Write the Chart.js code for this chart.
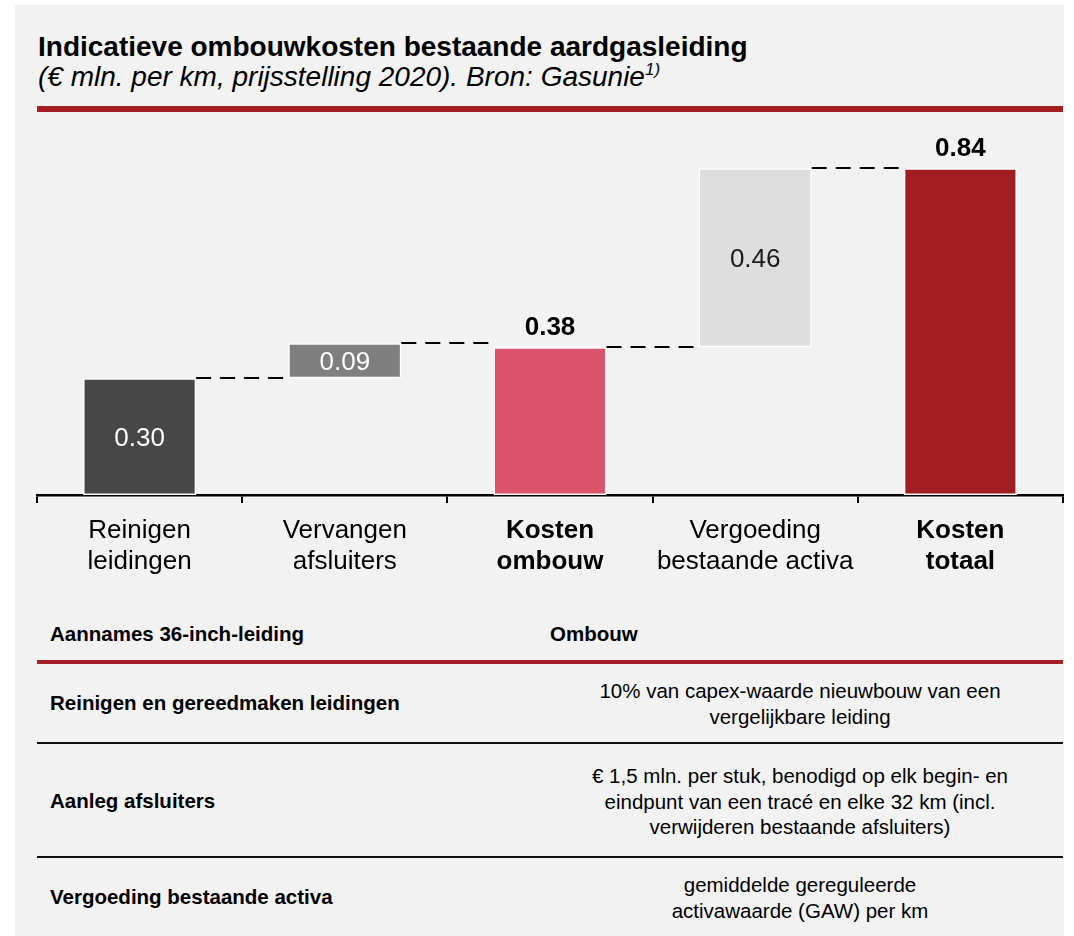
<!DOCTYPE html>
<html lang="nl">
<head>
<meta charset="utf-8">
<title>Indicatieve ombouwkosten bestaande aardgasleiding</title>
<script src="https://cdn.jsdelivr.net/npm/chart.js@4/dist/chart.umd.min.js"></script>
<style>
  html, body { margin: 0; padding: 0; background: #ffffff; }
  body { width: 1074px; height: 936px; position: relative; overflow: hidden;
         font-family: "Liberation Sans", Arial, sans-serif; color: #000; }
  #paneel { position: absolute; left: 15px; top: 5px; width: 1049px; height: 931px; background: #f2f2f2; }
  #grafiek { position: absolute; left: 0; top: 0; }
  .t { position: absolute; white-space: nowrap; }
  .titel { left: 38px; top: 33px; font-size: 28px; line-height: 28px; font-weight: bold; }
  .sub { left: 38px; top: 63px; font-size: 28px; line-height: 28px; font-style: italic; }
  .sub sup { font-size: 17px; line-height: 0; vertical-align: 11px; }
  .lijn { position: absolute; left: 37px; width: 1026px; }
  .kop { font-size: 20.5px; line-height: 20.5px; font-weight: bold; }
  .links { left: 50px; font-size: 20.5px; line-height: 20.5px; font-weight: bold; }
  .rechts { left: 540px; width: 520px; text-align: center; font-size: 20.5px; line-height: 25.5px; white-space: normal; }
</style>
</head>
<body>
<div id="paneel"></div>

<div class="t titel">Indicatieve ombouwkosten bestaande aardgasleiding</div>
<div class="t sub">(€ mln. per km, prijsstelling 2020). Bron: Gasunie<sup>1)</sup></div>
<div class="lijn" style="top:106px;height:5.5px;background:#a31f22;"></div>

<canvas id="grafiek" width="1074" height="600"></canvas>

<!-- tabel met aannames -->
<div class="t kop" style="left:50px;top:624px;">Aannames 36-inch-leiding</div>
<div class="t kop" style="left:550px;top:624px;">Ombouw</div>
<div class="lijn" style="top:660px;height:4px;background:#a52026;"></div>

<div class="t links" style="top:693px;">Reinigen en gereedmaken leidingen</div>
<div class="t rechts" style="top:678px;">10% van capex-waarde nieuwbouw van een<br>vergelijkbare leiding</div>
<div class="lijn" style="top:742px;height:2px;background:#111;"></div>

<div class="t links" style="top:791px;">Aanleg afsluiters</div>
<div class="t rechts" style="top:763px;">€ 1,5 mln. per stuk, benodigd op elk begin- en<br>eindpunt van een tracé en elke 32 km (incl.<br>verwijderen bestaande afsluiters)</div>
<div class="lijn" style="top:856px;height:2px;background:#111;"></div>

<div class="t links" style="top:887px;">Vergoeding bestaande activa</div>
<div class="t rechts" style="top:872px;">gemiddelde gereguleerde<br>activawaarde (GAW) per km</div>

<script>
// Data
const categorieen = [
  ["Reinigen", "leidingen"],
  ["Vervangen", "afsluiters"],
  ["Kosten", "ombouw"],
  ["Vergoeding", "bestaande activa"],
  ["Kosten", "totaal"],
];
const waarden = [0.30, 0.09, 0.38, 0.46, 0.84];
const isTotaal = [false, false, true, false, true];

const kleuren = ["#474747", "#7f7f7f", "#db546b", "#dedede", "#a01e21"];
const labelKleuren = ["#ffffff", "#ffffff", "#000000", "#1a1a1a", "#000000"];
const lettertype = '"Liberation Sans", Arial, sans-serif';

// Waterval: stappen stapelen op het lopende totaal, totalen starten op 0
let lopend = 0;
const balken = waarden.map((v, i) => {
  if (isTotaal[i]) {
    lopend = v;
    return [0, v];
  }
  const b = [lopend, lopend + v];
  lopend += v;
  return b;
});

// Labels en stippellijnen tussen de balken
const watervalPlugin = {
  id: "waterval",
  afterDatasetsDraw(chart) {
    const ctx = chart.ctx;
    const bars = chart.getDatasetMeta(0).data;

    ctx.save();
    ctx.strokeStyle = "#000000";
    ctx.lineWidth = 2;
    ctx.setLineDash([15, 9]);
    for (let i = 0; i < bars.length - 1; i++) {
      const a = bars[i], b = bars[i + 1];
      const y = Math.round(a.y);
      ctx.beginPath();
      ctx.moveTo(a.x + a.width / 2, y);
      ctx.lineTo(b.x - b.width / 2, y);
      ctx.stroke();
    }
    ctx.restore();

    ctx.save();
    ctx.textAlign = "center";
    bars.forEach((bar, i) => {
      const tekst = waarden[i].toFixed(2);
      ctx.fillStyle = labelKleuren[i];
      if (isTotaal[i]) {
        ctx.font = "bold 26px " + lettertype;
        ctx.textBaseline = "alphabetic";
        ctx.fillText(tekst, bar.x, bar.y - 12);
      } else {
        ctx.font = "26px " + lettertype;
        ctx.textBaseline = "middle";
        ctx.fillText(tekst, bar.x, (bar.y + bar.base) / 2 + 2);
      }
    });
    ctx.restore();
  },
};

new Chart(document.getElementById("grafiek"), {
  type: "bar",
  data: {
    labels: categorieen,
    datasets: [
      {
        data: balken,
        backgroundColor: kleuren,
        borderColor: "#ffffff",
        borderWidth: 1.5,
        borderSkipped: false,
        barPercentage: 0.551,
        categoryPercentage: 1,
      },
    ],
  },
  options: {
    responsive: false,
    animation: false,
    layout: { padding: { left: 37, right: 11, top: 145, bottom: 0 } },
    plugins: {
      legend: { display: false },
      tooltip: { enabled: false },
    },
    scales: {
      y: { display: false, min: 0, max: 0.9 },
      x: {
        afterFit(scale) {
          scale.height = 105;
        },
        border: { display: true, color: "#000000", width: 2.5 },
        grid: {
          offset: true,
          drawOnChartArea: false,
          drawTicks: true,
          tickLength: 8,
          color: "#000000",
          lineWidth: 2,
        },
        ticks: {
          autoSkip: false,
          maxRotation: 0,
          padding: 12,
          color: "#000000",
          font: (c) => ({
            family: lettertype,
            size: 26,
            lineHeight: 1.2,
            weight: isTotaal[c.index] ? "bold" : "normal",
          }),
        },
      },
    },
  },
  plugins: [watervalPlugin],
});
</script>
</body>
</html>
